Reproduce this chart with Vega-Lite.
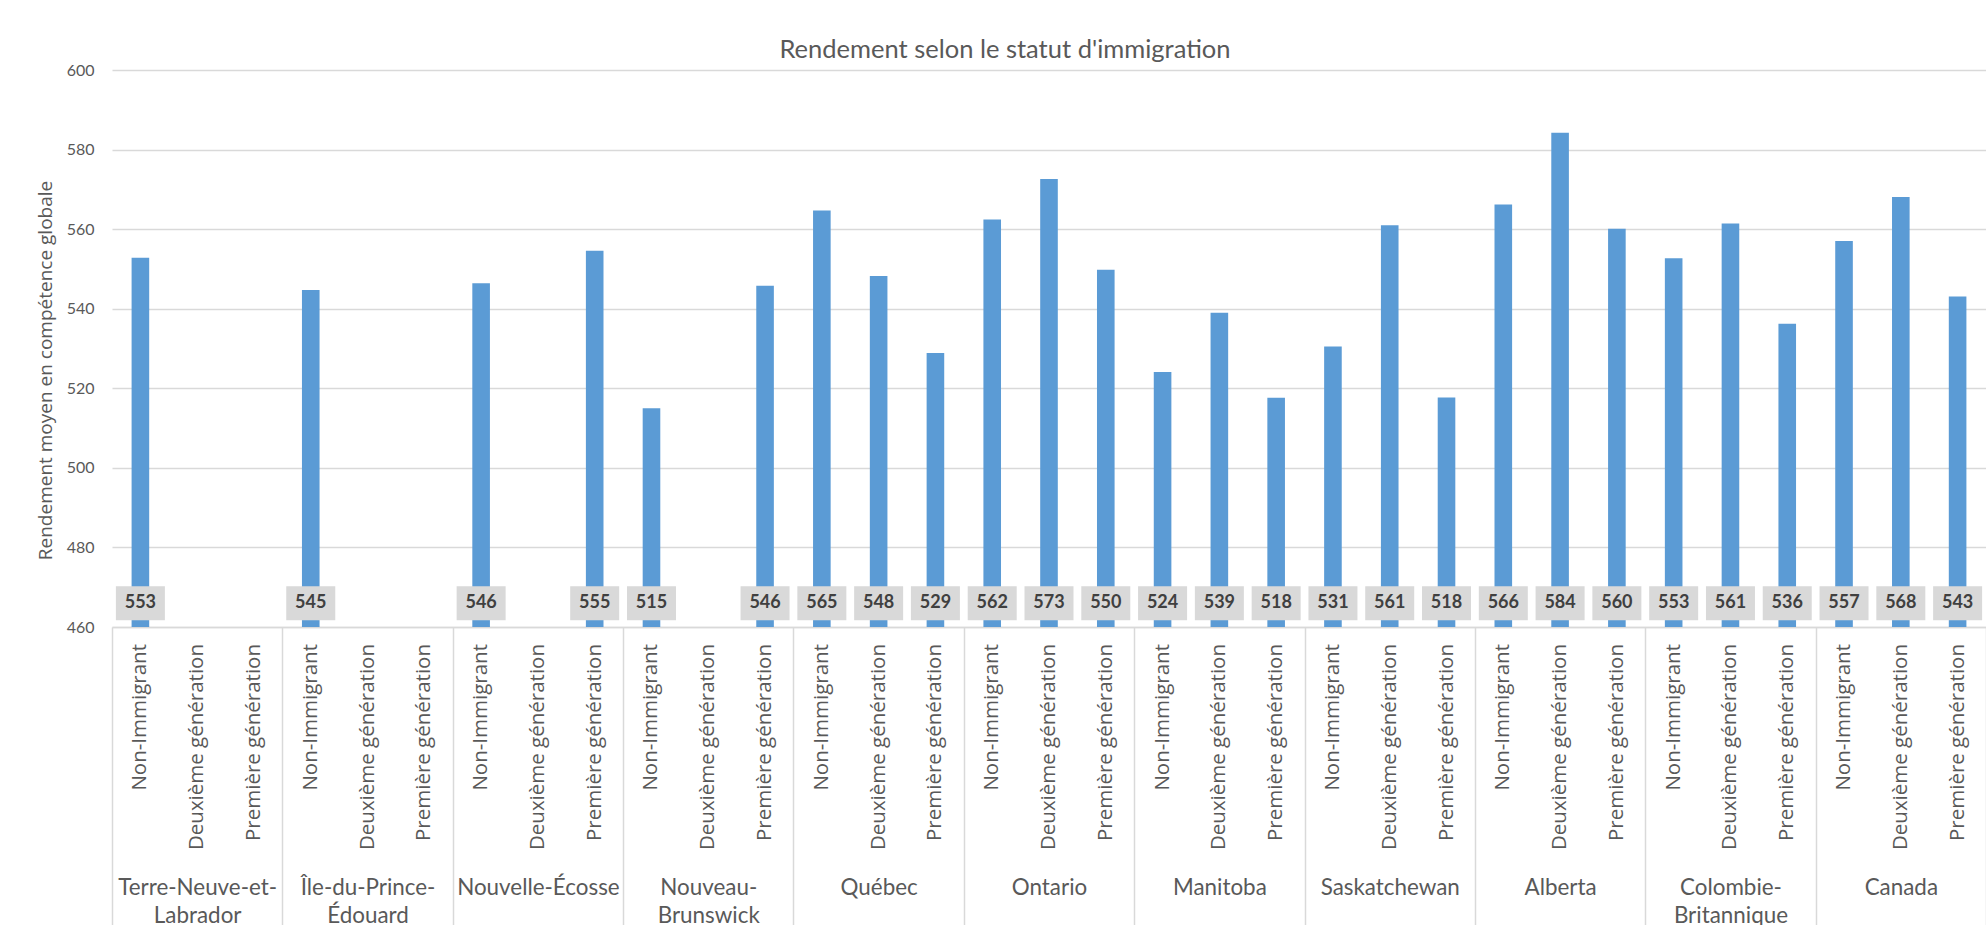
{
  "$schema": "https://vega.github.io/schema/vega-lite/v6.json",
  "autosize": "none",
  "width": 1874,
  "height": 557,
  "padding": {"left": 112, "top": 70, "right": 0, "bottom": 298},
  "background": "white",
  "title": {
    "text": "Rendement selon le statut d'immigration",
    "font": "Lato",
    "fontSize": 25.5,
    "fontWeight": "normal",
    "color": "#595959",
    "anchor": "middle",
    "frame": "group",
    "baseline": "alphabetic",
    "offset": 13,
    "dx": -44,
    "dy": 34
  },
  "config": {
    "view": {"stroke": null},
    "axisY": {
      "titleFont": "Open Sans",
      "titleFontSize": 19,
      "titleFontWeight": "normal",
      "titleColor": "#595959",
      "titleX": -67,
      "titleY": 300,
      "titleAngle": 270,
      "titleAlign": "center",
      "titleBaseline": "middle",
      "labelFont": "Lato",
      "labelFontSize": 16,
      "labelColor": "#595959",
      "labelPadding": 18,
      "ticks": false,
      "domain": false,
      "grid": true,
      "gridColor": "#d9d9d9",
      "gridWidth": 1.3
    }
  },
  "data": {
    "values": [
      {"province": "Terre-Neuve-et-Labrador", "statut": "Non-Immigrant", "valeur": 552.8},
      {"province": "Terre-Neuve-et-Labrador", "statut": "Deuxième génération", "valeur": null},
      {"province": "Terre-Neuve-et-Labrador", "statut": "Première génération", "valeur": null},
      {"province": "Île-du-Prince-Édouard", "statut": "Non-Immigrant", "valeur": 544.7},
      {"province": "Île-du-Prince-Édouard", "statut": "Deuxième génération", "valeur": null},
      {"province": "Île-du-Prince-Édouard", "statut": "Première génération", "valeur": null},
      {"province": "Nouvelle-Écosse", "statut": "Non-Immigrant", "valeur": 546.4},
      {"province": "Nouvelle-Écosse", "statut": "Deuxième génération", "valeur": null},
      {"province": "Nouvelle-Écosse", "statut": "Première génération", "valeur": 554.6},
      {"province": "Nouveau-Brunswick", "statut": "Non-Immigrant", "valeur": 515.0},
      {"province": "Nouveau-Brunswick", "statut": "Deuxième génération", "valeur": null},
      {"province": "Nouveau-Brunswick", "statut": "Première génération", "valeur": 545.8},
      {"province": "Québec", "statut": "Non-Immigrant", "valeur": 564.7},
      {"province": "Québec", "statut": "Deuxième génération", "valeur": 548.2},
      {"province": "Québec", "statut": "Première génération", "valeur": 528.9},
      {"province": "Ontario", "statut": "Non-Immigrant", "valeur": 562.4},
      {"province": "Ontario", "statut": "Deuxième génération", "valeur": 572.6},
      {"province": "Ontario", "statut": "Première génération", "valeur": 549.8},
      {"province": "Manitoba", "statut": "Non-Immigrant", "valeur": 524.1},
      {"province": "Manitoba", "statut": "Deuxième génération", "valeur": 539.0},
      {"province": "Manitoba", "statut": "Première génération", "valeur": 517.6},
      {"province": "Saskatchewan", "statut": "Non-Immigrant", "valeur": 530.5},
      {"province": "Saskatchewan", "statut": "Deuxième génération", "valeur": 561.0},
      {"province": "Saskatchewan", "statut": "Première génération", "valeur": 517.7},
      {"province": "Alberta", "statut": "Non-Immigrant", "valeur": 566.2},
      {"province": "Alberta", "statut": "Deuxième génération", "valeur": 584.2},
      {"province": "Alberta", "statut": "Première génération", "valeur": 560.1},
      {"province": "Colombie-Britannique", "statut": "Non-Immigrant", "valeur": 552.7},
      {"province": "Colombie-Britannique", "statut": "Deuxième génération", "valeur": 561.4},
      {"province": "Colombie-Britannique", "statut": "Première génération", "valeur": 536.2},
      {"province": "Canada", "statut": "Non-Immigrant", "valeur": 557.0},
      {"province": "Canada", "statut": "Deuxième génération", "valeur": 568.1},
      {"province": "Canada", "statut": "Première génération", "valeur": 543.1}
    ]
  },
  "encoding": {
    "x": {
      "field": "province",
      "type": "nominal",
      "sort": null,
      "scale": {"paddingInner": 0, "paddingOuter": 0,
        "domain": ["Terre-Neuve-et-Labrador", "Île-du-Prince-Édouard", "Nouvelle-Écosse", "Nouveau-Brunswick", "Québec", "Ontario", "Manitoba", "Saskatchewan", "Alberta", "Colombie-Britannique", "Canada"]},
      "axis": {
        "title": null,
        "orient": "bottom",
        "labelAngle": 0,
        "domain": true,
        "domainColor": "#d9d9d9",
        "domainWidth": 1.5,
        "ticks": true,
        "tickBand": "extent",
        "tickSize": 300,
        "tickColor": "#d9d9d9",
        "tickWidth": 1.5,
        "labelFont": "Lato",
        "labelFontSize": 22.4,
        "labelColor": "#595959",
        "labelBaseline": "top",
        "labelLineHeight": 28,
        "labelPadding": -51,
        "labelLimit": 0,
        "labelOverlap": false,
        "grid": false,
        "labelExpr": "datum.value == 'Terre-Neuve-et-Labrador' ? ['Terre-Neuve-et-', 'Labrador'] : datum.value == 'Île-du-Prince-Édouard' ? ['Île-du-Prince-', 'Édouard'] : datum.value == 'Nouveau-Brunswick' ? ['Nouveau-', 'Brunswick'] : datum.value == 'Colombie-Britannique' ? ['Colombie-', 'Britannique'] : datum.value"
      }
    },
    "xOffset": {"field": "statut", "type": "nominal", "sort": null,
      "scale": {"paddingInner": 0.69, "paddingOuter": 0.345, "domain": ["Non-Immigrant", "Deuxième génération", "Première génération"]}}
  },
  "layer": [
    {
      "mark": {"type": "bar", "color": "#5b9bd5", "clip": true},
      "encoding": {
        "y": {
          "field": "valeur",
          "type": "quantitative",
          "scale": {"domain": [460, 600], "zero": false, "nice": false},
          "axis": {"title": "Rendement moyen en compétence globale", "values": [460, 480, 500, 520, 540, 560, 580, 600]}
        }
      }
    },
    {
      "transform": [{"filter": "isValid(datum.valeur)"}],
      "mark": {"type": "tick", "color": "#d9d9d9", "opacity": 1, "size": 49, "thickness": 34, "orient": "horizontal"},
      "encoding": {
        "y": {"datum": 466, "type": "quantitative", "scale": {"domain": [460, 600], "zero": false, "nice": false},
          "axis": {"title": "Rendement moyen en compétence globale", "values": [460, 480, 500, 520, 540, 560, 580, 600]}}
      }
    },
    {
      "transform": [{"filter": "isValid(datum.valeur)"}],
      "mark": {"type": "text", "font": "Lato", "fontSize": 18, "fontWeight": "bold", "color": "#404040", "baseline": "middle", "align": "center"},
      "encoding": {
        "y": {"datum": 466, "type": "quantitative", "scale": {"domain": [460, 600], "zero": false, "nice": false},
          "axis": {"title": "Rendement moyen en compétence globale", "values": [460, 480, 500, 520, 540, 560, 580, 600]}},
        "text": {"field": "valeur", "type": "quantitative", "format": ".0f"}
      }
    },
    {
      "mark": {"type": "text", "font": "Open Sans", "fontSize": 20.5, "color": "#595959", "angle": 270, "align": "right", "baseline": "middle", "dx": -17},
      "encoding": {
        "y": {"datum": 460, "type": "quantitative", "scale": {"domain": [460, 600], "zero": false, "nice": false},
          "axis": {"title": "Rendement moyen en compétence globale", "values": [460, 480, 500, 520, 540, 560, 580, 600]}},
        "text": {"field": "statut", "type": "nominal"}
      }
    }
  ]
}
